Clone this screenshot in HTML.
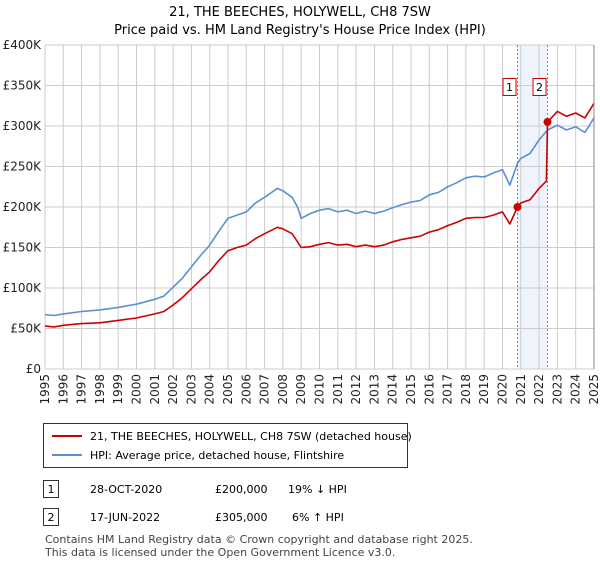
<!DOCTYPE html>
<html><head><meta charset="utf-8"><style>
body{margin:0;width:600px;height:560px;background:#fff;font-family:"DejaVu Sans","Liberation Sans",sans-serif;color:#222;overflow:hidden}
svg{font-family:"DejaVu Sans","Liberation Sans",sans-serif}
.t{font-size:13px;text-anchor:middle}
.ax{font-size:12px;fill:#222}
</style></head><body>
<svg width="600" height="560">
<text class="t" x="300" y="16">21, THE BEECHES, HOLYWELL, CH8 7SW</text>
<text class="t" x="300" y="34">Price paid vs. HM Land Registry's House Price Index (HPI)</text>
<g id="grid"></g><g id="marks"></g><g id="axes"></g>
<g>
<rect x="43.5" y="423.5" width="364" height="44" fill="#fff" stroke="#333"/>
<line x1="52" y1="436" x2="82" y2="436" stroke="#cc0000" stroke-width="2"/>
<text x="90" y="440" font-size="11">21, THE BEECHES, HOLYWELL, CH8 7SW (detached house)</text>
<line x1="52" y1="455" x2="82" y2="455" stroke="#5b8fd0" stroke-width="2"/>
<text x="90" y="459" font-size="11">HPI: Average price, detached house, Flintshire</text>
</g>
<g font-size="11">
<rect x="43.5" y="480.5" width="15" height="17" fill="#fff" stroke="#333"/><text x="51" y="493" text-anchor="middle">1</text>
<text x="90" y="493">28-OCT-2020</text><text x="215" y="493">£200,000</text><text x="288" y="493">19% ↓ HPI</text>
<rect x="43.5" y="508.5" width="15" height="17" fill="#fff" stroke="#333"/><text x="51" y="521" text-anchor="middle">2</text>
<text x="90" y="521">17-JUN-2022</text><text x="215" y="521">£305,000</text><text x="292" y="521">6% ↑ HPI</text>
</g>
<text x="45" y="543" font-size="11" fill="#444">Contains HM Land Registry data © Crown copyright and database right 2025.</text>
<text x="45" y="556" font-size="11" fill="#444">This data is licensed under the Open Government Licence v3.0.</text>
</svg>
<script>
const hpiYears=[1995,1995.5,1996,1997,1998,1999,2000,2001,2001.5,2002,2002.5,2003,2003.5,2004,2004.5,2005,2005.5,2006,2006.5,2007,2007.7,2008,2008.5,2008.8,2009,2009.5,2010,2010.5,2011,2011.5,2012,2012.5,2013,2013.5,2014,2014.5,2015,2015.5,2016,2016.5,2017,2017.5,2018,2018.5,2019,2019.5,2020,2020.4,2020.82,2021,2021.5,2022,2022.46,2023,2023.5,2024,2024.5,2025];
const hpiValues=[67,66,68,71,73,76,80,86,90,101,112,126,140,153,170,186,190,194,205,212,223,220,212,200,186,192,196,198,194,196,192,195,192,195,199,203,206,208,215,218,225,230,236,238,237,242,246,227,254,260,266,283,295,301,295,299,292,310];
const priceYears=[1995,1995.5,1996,1997,1998,1999,2000,2001,2001.5,2002,2002.5,2003,2003.5,2004,2004.5,2005,2005.5,2006,2006.5,2007,2007.7,2008,2008.5,2008.8,2009,2009.5,2010,2010.5,2011,2011.5,2012,2012.5,2013,2013.5,2014,2014.5,2015,2015.5,2016,2016.5,2017,2017.5,2018,2018.5,2019,2019.5,2020,2020.4,2020.82,2021,2021.5,2022,2022.4,2022.46,2023,2023.5,2024,2024.5,2025];
const priceValues=[53,52,54,56,57,60,63,68,71,79,88,99,110,120,134,146,150,153,161,167,175,173,167,157,150,151,154,156,153,154,151,153,151,153,157,160,162,164,169,172,177,181,186,187,187,190,194,179,200,205,209,223,232,305,318,312,316,310,328];
const saleYears=[2020.82,2022.46];
const saleValues=[200,305];
const saleLabels=["1","2"];
const yTicks=[0,50,100,150,200,250,300,350,400];
const yTickLabels=["£0","£50K","£100K","£150K","£200K","£250K","£300K","£350K","£400K"];
const xTicks=[1995,1996,1997,1998,1999,2000,2001,2002,2003,2004,2005,2006,2007,2008,2009,2010,2011,2012,2013,2014,2015,2016,2017,2018,2019,2020,2021,2022,2023,2024,2025];
const L=45,R=594,T=45,B=369;
const xs=y=>L+(y-1995)/30*(R-L);
const ys=v=>B-v/400*(B-T);
const NS="http://www.w3.org/2000/svg";
function mk(p,tag,a){const e=document.createElementNS(NS,tag);for(const k in a)e.setAttribute(k,a[k]);p.appendChild(e);return e;}
const grid=document.getElementById('grid'),marks=document.getElementById('marks'),axes=document.getElementById('axes');
const sh=mk(grid,'rect',{x:xs(saleYears[0]),y:T,width:xs(saleYears[1])-xs(saleYears[0]),height:B-T,fill:'#eef3fc'});


yTicks.forEach((v,i)=>{
 mk(grid,'line',{x1:L,x2:R,y1:ys(v),y2:ys(v),stroke:'#cccccc'});
 const t=mk(axes,'text',{x:L-4,y:ys(v)+4,'text-anchor':'end',class:'ax'});t.textContent=yTickLabels[i];
 
 
});
xTicks.forEach(y=>{
 mk(grid,'line',{x1:xs(y),x2:xs(y),y1:T,y2:B,stroke:'#cccccc'});
 const x=xs(y)+4,yy=B+5;
 const t=mk(axes,'text',{x:x,y:yy,'text-anchor':'end',class:'ax',transform:'rotate(-90 '+x+' '+yy+')'});t.textContent=y;
 
 
});
mk(axes,'line',{x1:R,x2:R,y1:T,y2:B,stroke:'#888'});
saleYears.forEach(y=>{mk(grid,'line',{x1:xs(y),x2:xs(y),y1:T,y2:B,stroke:'#ee5555','stroke-dasharray':'2,2'});});
function line(xv,yv,c,name){
 const d=xv.map((x,i)=>(i?'L':'M')+xs(x).toFixed(1)+','+ys(yv[i]).toFixed(1)).join('');
 const p=mk(marks,'path',{d:d,fill:'none',stroke:c,'stroke-width':1.6,'stroke-linejoin':'round'});
 
 
}
line(hpiYears,hpiValues,'#5b8fd0','hpi-line');
line(priceYears,priceValues,'#cc0000','price-paid-line');
saleYears.forEach((y,i)=>{
 const c=mk(marks,'circle',{cx:xs(y),cy:ys(saleValues[i]),r:4,fill:'#cc0000'});
 
 
 const bx=xs(y)-15;
 const r=mk(marks,'rect',{x:bx+0.5,y:78.5,width:13,height:17,fill:'#fff',stroke:'#cc0000'});
 
 
 const t=mk(marks,'text',{x:bx+7,y:91,'text-anchor':'middle','font-size':11});t.textContent=saleLabels[i];
 
 
});
</script>
</body></html>
